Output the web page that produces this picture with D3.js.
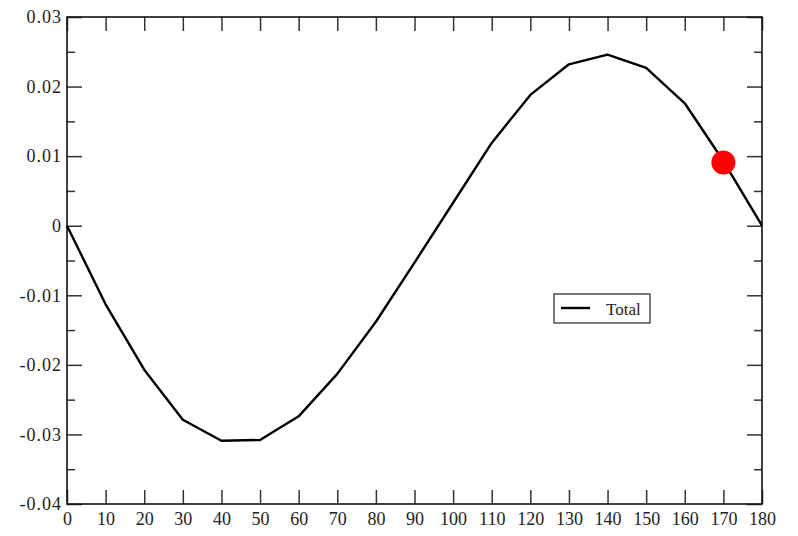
<!DOCTYPE html>
<html><head><meta charset="utf-8">
<script src="https://cdn.jsdelivr.net/npm/d3@7"></script>
<style>body{margin:0;background:#fff}svg{display:block}</style>
</head><body>
<script>
const angles = [0,10,20,30,40,50,60,70,80,90,100,110,120,130,140,150,160,170,180];
const totalValues = [0,-0.0113,-0.0207,-0.0279,-0.0309,-0.0308,-0.0274,-0.0213,-0.0138,-0.0053,0.0033,0.0119,0.0188,0.0232,0.0246,0.0227,0.0176,0.0093,0];
const markerPoint = [170, 0.0091];
const xTicks = [0,10,20,30,40,50,60,70,80,90,100,110,120,130,140,150,160,170,180];
const yTicks = [-0.04,-0.03,-0.02,-0.01,0,0.01,0.02,0.03];
const yMinorTicks = [-0.035,-0.025,-0.015,-0.005,0.005,0.015,0.025];
const legendLabel = "Total";

const W=798,H=536;
const L=67,R=762,T=17,B=504;
const svg=d3.select("body").append("svg").attr("width",W).attr("height",H);
const x=d3.scaleLinear().domain([0,180]).range([L,R]);
const y=d3.scaleLinear().domain([-0.04,0.03]).range([B,T]);
const font="Liberation Serif, Times New Roman, serif";
const tickCol="#333";

function fmt(v){ if(Math.abs(v)<1e-12) return "0"; return String(+v.toFixed(2)); }

const gb=svg.append("g").attr("transform",`translate(0,${B})`)
  .call(d3.axisBottom(x).tickValues(xTicks).tickSize(-14).tickPadding(8).tickFormat(d=>d));
const gt=svg.append("g").attr("transform",`translate(0,${T})`)
  .call(d3.axisTop(x).tickValues(xTicks).tickSize(-14).tickFormat(""));
const gl=svg.append("g").attr("transform",`translate(${L},0)`)
  .call(d3.axisLeft(y).tickValues(yTicks).tickSize(-15).tickPadding(5).tickFormat(fmt));
const glm=svg.append("g").attr("transform",`translate(${L},0)`)
  .call(d3.axisLeft(y).tickValues(yMinorTicks).tickSize(-8).tickFormat(""));
const gr=svg.append("g").attr("transform",`translate(${R},0)`)
  .call(d3.axisRight(y).tickValues(yTicks).tickSize(-15).tickFormat(""));
const grm=svg.append("g").attr("transform",`translate(${R},0)`)
  .call(d3.axisRight(y).tickValues(yMinorTicks).tickSize(-8).tickFormat(""));
[gb,gt,gl,glm,gr,grm].forEach(g=>{
  g.select(".domain").remove();
  g.selectAll(".tick line").attr("stroke",tickCol).attr("stroke-width",1.5);
  g.selectAll("text").attr("font-family",font).attr("font-size",18).attr("fill","#222");
});
gb.selectAll("text").attr("dy","0.71em").attr("y",8);
gl.selectAll("text").attr("x",-5).attr("dy","0.32em").attr("letter-spacing","1px");

svg.append("rect").attr("x",L).attr("y",T).attr("width",R-L).attr("height",B-T)
  .attr("fill","none").attr("stroke","#111").attr("stroke-width",1.6);

const line=d3.line().x((d,i)=>x(angles[i])).y(d=>y(d));
svg.append("path").datum(totalValues).attr("d",line)
  .attr("fill","none").attr("stroke","#000").attr("stroke-width",2.4).attr("stroke-linejoin","round");

svg.append("circle").attr("cx",x(markerPoint[0])).attr("cy",y(markerPoint[1])).attr("r",12)
  .attr("fill","#f00");

const lg=svg.append("g");
lg.append("rect").attr("x",554).attr("y",294).attr("width",96).attr("height",29)
  .attr("fill","#fff").attr("stroke","#222").attr("stroke-width",1.2);
lg.append("line").attr("x1",561).attr("x2",590).attr("y1",308).attr("y2",308)
  .attr("stroke","#000").attr("stroke-width",2.4);
lg.append("text").attr("x",606).attr("y",315).text(legendLabel)
  .attr("font-family",font).attr("font-size",17).attr("fill","#222");
</script>
</body></html>
